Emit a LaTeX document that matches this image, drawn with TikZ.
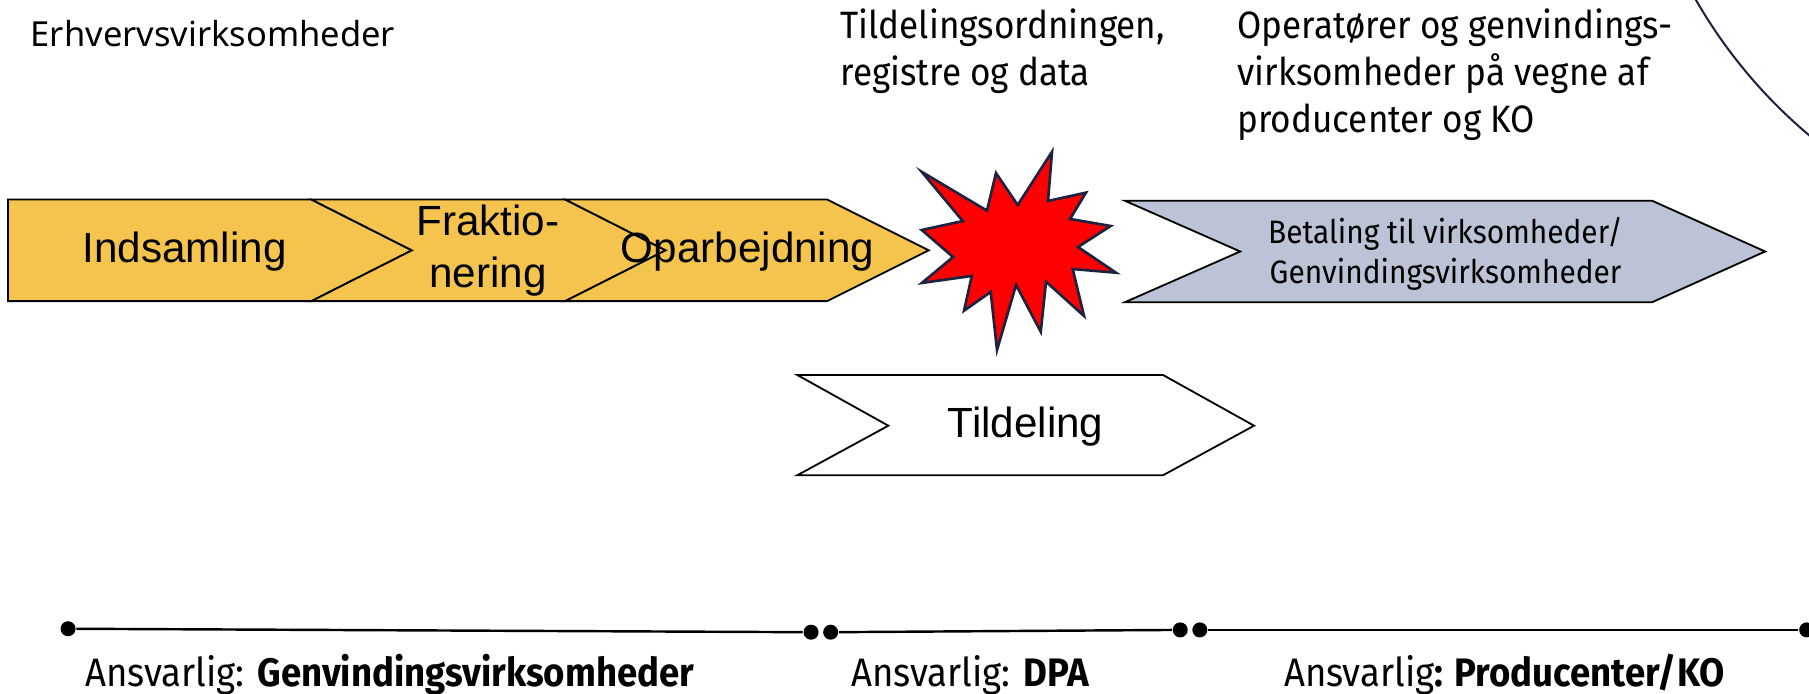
\documentclass[tikz,border=0pt]{standalone}
\usepackage{fontspec}
\setmainfont{Fira Sans}
\newfontfamily\arialfont{Liberation Sans}
\newfontfamily\plainfont{Noto Sans}
\newfontfamily\narrowfont{Fira Sans}[FakeStretch=0.92]
\usetikzlibrary{positioning}
\definecolor{stepyellow}{HTML}{F4C44F}
\definecolor{paygrey}{HTML}{BDC3D6}
\definecolor{inknavy}{HTML}{1C2340}
\begin{document}
\begin{tikzpicture}[x=0.01cm,y=-0.01cm,line join=miter,
	chevron/.style={draw=black,line width=0.45pt},
	steplabel/.style={font=\arialfont\fontsize{10.4}{12.8}\selectfont,align=center,inner sep=0pt},
	toplabel/.style={font=\narrowfont\fontsize{9.4}{11.6}\selectfont,align=left,inner sep=0pt,anchor=north west},
	ansvar/.style={font=\narrowfont\fontsize{9.8}{11}\selectfont,inner sep=0pt,anchor=base},
	dot/.style={circle,fill=black,inner sep=0pt,minimum size=0.13cm},
	timeline/.style={line width=0.6pt}]
	\useasboundingbox (0,0) rectangle (1568,601);
	% circle in the upper right corner
	\begin{scope}
	\clip (0,0) rectangle (1568,601);
	\draw[inknavy,line width=0.5pt] (1850,-218) circle[radius=438];
	\end{scope}
	% texts at the top
	\node[font=\plainfont\fontsize{8.5}{10}\selectfont,inner sep=0pt,anchor=base west] (erhverv) at (26,40.5) {Erhvervsvirksomheder};
	\node[toplabel] (tildelingsord) at (728,7) {Tildelingsordningen,\\registre og data};
	\node[toplabel] (operatoer) at (1072,7) {Operatører og genvindings-\\virksomheder på vegne af\\producenter og KO};
	% chevrons
	\draw[chevron,fill=stepyellow] (7,173) -- (270,173) -- (357,217) -- (270,261) -- (7,261) -- cycle;
	\draw[chevron,fill=stepyellow] (270,173) -- (490,173) -- (577,217) -- (490,261) -- (270,261) -- (357,217) -- cycle;
	\draw[chevron,fill=stepyellow] (490,173) -- (717,173) -- (805,217) -- (717,261) -- (490,261) -- (577,217) -- cycle;
	\draw[chevron,fill=paygrey] (975,174) -- (1432,174) -- (1530,218) -- (1432,262) -- (975,262) -- (1075,218) -- cycle;
	\draw[chevron,fill=white] (691,325) -- (1008,325) -- (1087,369) -- (1008,412) -- (691,412) -- (770,369) -- cycle;
	\node[steplabel] (indsamling) at (160,218) {Indsamling};
	\node[steplabel] (fraktionering) at (423,217) {Fraktio-\\nering};
	\node[steplabel] (oparbejdning) at (648,218) {Oparbejdning};
	\node[steplabel] (tildeling) at (889,370) {Tildeling};
	\node[font=\narrowfont\fontsize{8}{9.8}\selectfont,align=center,inner sep=0pt] (betaling) at (1253,220) {Betaling til virksomheder/\\Genvindingsvirksomheder};
	% burst
	\draw[fill=red,draw=inknavy,line width=0.65pt] (799,149)
	\foreach \p in {(855.5,182.6),(863.3,150),(882.1,177.7),(911.9,131.5),(908.4,174.2),
		(941.3,167),(927.5,189.8),(962.7,195.9),(934.4,214.1),(967.3,236.4),(929.8,233.2),
		(939.6,273.9),(906.7,244.2),(902.1,287.5),(880.7,247),(864.2,303.4),(858.7,253.1),
		(835.6,269.3),(842.3,239.2),(799,245.3),(826.1,222.8),(799,199.4),(834.5,191.6)} { -- \p }
	-- cycle;
	% time line
	\node[dot] (d1) at (59,545) {};
	\node[dot] (d2) at (703,548) {};
	\node[dot] (d3) at (720,548) {};
	\node[dot] (d4) at (1023,546) {};
	\node[dot] (d5) at (1040,546) {};
	\node[dot] (d6) at (1566,546) {};
	\draw[timeline] (d1) -- (d2);
	\draw[timeline] (d3) -- (d4);
	\draw[timeline] (d5) -- (d6);
	\node[ansvar] (ansv1) at (338,595) {Ansvarlig: \textbf{Genvindingsvirksomheder}};
	\node[ansvar] (ansv2) at (841,595) {Ansvarlig: \textbf{DPA}};
	\node[ansvar] (ansv3) at (1304,595) {Ansvarlig\textbf{: Producenter/KO}};
\end{tikzpicture}
\end{document}
